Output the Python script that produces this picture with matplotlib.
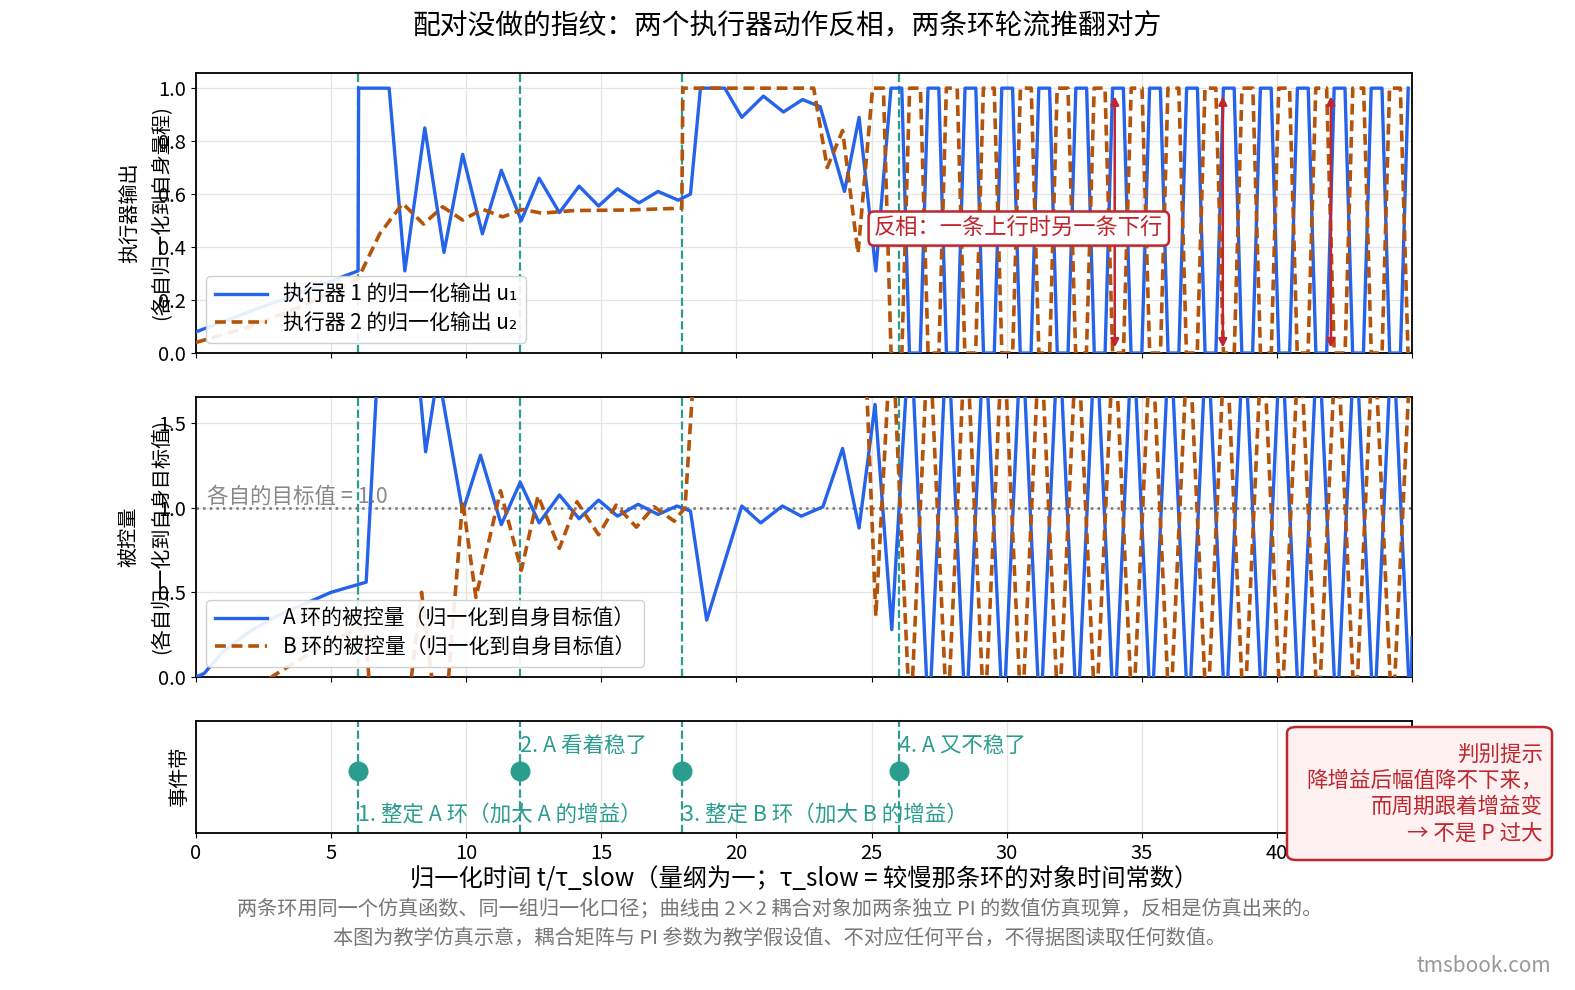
import matplotlib
matplotlib.use("Agg")
import matplotlib.pyplot as plt
import numpy as np
from matplotlib.patches import FancyBboxPatch

plt.rcParams['font.family'] = ['Noto Sans CJK SC', 'DejaVu Sans']
plt.rcParams['axes.unicode_minus'] = False

BLUE = '#2563eb'
ORANGE = '#b45309'
TEAL = '#2a9d8f'
RED = '#c0262d'

# ---- early (transient) segments ----
u1_t = [0, 6.0, 6.02, 7.15, 7.73, 8.47, 9.18, 9.87, 10.6, 11.3, 12.04, 12.7, 13.45, 14.18, 14.9, 15.6, 16.4, 17.1,
        17.85, 18.3, 18.67, 19.57, 20.2, 21.0, 21.74, 22.45, 23.1, 24.0, 24.54, 25.16]
u1_v = [0.08, 0.31, 1.0, 1.0, 0.31, 0.85, 0.38, 0.75, 0.45, 0.69, 0.50, 0.66, 0.53, 0.63, 0.555, 0.62, 0.567, 0.61,
        0.577, 0.60, 1.0, 1.0, 0.89, 0.97, 0.91, 0.957, 0.93, 0.61, 0.89, 0.31]
u2_t = [0, 2.0, 4.0, 6.0, 6.8, 7.65, 8.42, 9.13, 9.87, 10.6, 11.35, 12.1, 12.8, 14.0, 16.0, 17.98, 18.02, 22.86,
        23.36, 23.93, 24.5]
u2_v = [0.04, 0.10, 0.18, 0.28, 0.45, 0.565, 0.487, 0.552, 0.502, 0.543, 0.514, 0.542, 0.528, 0.538, 0.54, 0.547, 1.0, 1.0,
        0.70, 0.84, 0.377]
yA_t = [0, 0.3, 1.0, 2.0, 3.0, 4.0, 5.0, 6.3, 6.75, 8.17, 8.5, 8.96, 9.87, 10.53, 11.3, 12.0, 12.7, 13.45, 14.18,
        14.9, 15.6, 16.36, 17.1, 17.8, 18.3, 18.9, 20.2, 20.9, 21.7, 22.4, 23.2, 23.93, 24.54, 25.13]
yA_v = [0.0, 0.02, 0.15, 0.27, 0.36, 0.43, 0.50, 0.56, 1.9, 1.9, 1.33, 1.8, 0.976, 1.31, 0.90, 1.15, 0.91, 1.075, 0.935,
        1.045, 0.95, 1.02, 0.96, 1.01, 0.98, 0.336, 1.01, 0.91, 1.01, 0.95, 1.005, 1.35, 0.88, 1.61]
yB_t = [0, 2.8, 4.0, 5.5, 6.25, 6.45, 7.9, 8.35, 8.8, 9.3, 9.87, 10.36, 11.27, 12.04, 12.66, 13.45, 14.1, 14.9,
        15.55, 16.3, 16.95, 17.7, 18.1, 18.5, 24.75, 25.16]
yB_v = [-0.4, 0.0, 0.12, 0.25, 0.30, -0.1, -0.1, 0.5, -0.1, -0.1, 1.04, 0.47, 1.10, 0.63, 1.07, 0.76, 1.035, 0.84,
        1.015, 0.885, 1.006, 0.92, 1.0, 2.0, 2.0, 0.36]

# ---- late (limit-cycle) regime ----
u1_peaks = [25.92, 27.29, 28.66, 30.02, 31.39, 32.76, 34.12, 35.49, 36.86, 38.22, 39.59, 40.96, 42.32, 43.69, 45.06]
u2_peaks = [25.24, 26.61, 27.97, 29.34, 30.71, 32.07, 33.44, 34.81, 36.17, 37.54, 38.91, 40.27, 41.64, 43.01, 44.37]
yA_troughs = [25.75, 27.12, 28.49, 29.87, 31.24, 32.61, 33.98, 35.35, 36.73, 38.10, 39.47, 40.84, 42.21, 43.59, 44.96]
late_hi, late_lo = 2.1, -0.3
yA_end = 0.23
event_t = [6, 12, 18, 26]
event_lbl = ['1. 整定 A 环（加大 A 的增益）', '2. A 看着稳了', '3. 整定 B 环（加大 B 的增益）', '4. A 又不稳了']
arrow_t = [34, 38, 42]


def trapez(peaks, half_top=0.2, ramp=0.283):
    t, v = [], []
    for c in peaks:
        t += [c - half_top, c + half_top, c + half_top + ramp, c + 3 * half_top + ramp]
        v += [1, 1, 0, 0]
    return t, v


t1, v1 = trapez(u1_peaks)
U1t = np.array(u1_t + t1); U1v = np.array(u1_v + v1)
m = U1t <= 45; U1t, U1v = U1t[m], U1v[m]
t2, v2 = trapez(u2_peaks)
U2t = np.array(u2_t + t2); U2v = np.array(u2_v + v2)
m = U2t <= 45; U2t, U2v = U2t[m], U2v[m]

def vwave(mins, lo, hi):
    t, v = [], []
    for i, c in enumerate(mins):
        t.append(c); v.append(lo)
        if i < len(mins) - 1:
            t.append((c + mins[i + 1]) / 2); v.append(hi)
    return t, v

ta, va = vwave(yA_troughs[1:], late_lo, late_hi)
YAt = yA_t + [yA_troughs[0]] + [(yA_troughs[0] + yA_troughs[1]) / 2] + ta + [45]
YAv = yA_v + [0.28] + [late_hi] + va + [yA_end]
tb, vb = vwave([(a + b) / 2 for a, b in zip(yA_troughs[:-1], yA_troughs[1:])], late_lo, late_hi)
YBt = yB_t + [yA_troughs[0]] + tb + [45]
YBv = yB_v + [late_hi] + vb + [late_hi]

fig = plt.figure(figsize=(15.75, 9.9), dpi=100)
L, W = 0.1244, 0.7721
ax1 = fig.add_axes([L, 0.6434, W, 0.2828])
ax2 = fig.add_axes([L, 0.3162, W, 0.2828], sharex=ax1)
ax3 = fig.add_axes([L, 0.1586, W, 0.1131], sharex=ax1)

for ax in (ax1, ax2, ax3):
    ax.grid(True, color='#e5e5e5', lw=0.9)
    ax.set_axisbelow(True)
    for e in event_t:
        ax.axvline(e, color=TEAL, ls='--', lw=1.6, zorder=1)
    ax.tick_params(labelsize=14.5)
    for s in ax.spines.values():
        s.set_linewidth(1.3)

ax1.plot(U1t, U1v, color=BLUE, lw=2.4, label='执行器 1 的归一化输出 u₁', zorder=3)
ax1.plot(U2t, U2v, color=ORANGE, lw=2.6, ls=(0, (3, 1.6)), label='执行器 2 的归一化输出 u₂', zorder=3)
ax1.set_xlim(0, 45)
ax1.set_ylim(0, 1.057)
ax1.set_yticks([0, 0.2, 0.4, 0.6, 0.8, 1.0])
ax1.set_ylabel('执行器输出\n(各自归一化到自身量程)', fontsize=14.5, labelpad=-10, linespacing=1.7)
ax1.tick_params(labelbottom=False)
for a in arrow_t:
    ax1.annotate('', xy=(a, 0.98), xytext=(a, 0.01),
                 arrowprops=dict(arrowstyle='<|-|>', color=RED, lw=1.8, mutation_scale=12), zorder=5)
ax1.text(30.45, 0.47, '反相：一条上行时另一条下行', color=RED, fontsize=16, ha='center', va='center', zorder=6,
         bbox=dict(boxstyle='round,pad=0.25', fc='white', ec=RED, lw=1.8))
ax1.legend(loc='lower left', fontsize=15, framealpha=0.9, borderpad=0.4, handlelength=2.5, labelspacing=0.3)

ax2.plot(YAt, YAv, color=BLUE, lw=2.4, label='A 环的被控量（归一化到自身目标值）', zorder=3)
ax2.plot(YBt, YBv, color=ORANGE, lw=2.6, ls=(0, (3, 1.6)), label='B 环的被控量（归一化到自身目标值）', zorder=3)
ax2.axhline(1.0, color='#777777', ls=':', lw=1.8, zorder=2)
ax2.text(0.4, 1.0, '各自的目标值 = 1.0', color='#888888', fontsize=15.5, va='bottom')
ax2.set_ylim(0, 1.654)
ax2.set_yticks([0, 0.5, 1.0, 1.5])
ax2.set_ylabel('被控量\n(各自归一化到自身目标值)', fontsize=14.5, labelpad=-10, linespacing=1.7)
ax2.tick_params(labelbottom=False)
ax2.legend(loc='lower left', fontsize=15, framealpha=0.9, borderpad=0.4, handlelength=2.5, labelspacing=0.3)

ax3.set_ylim(0, 1)
ax3.set_yticks([])
ax3.scatter(event_t, [0.55] * 4, s=180, color=TEAL, zorder=4)
for i, (e, s) in enumerate(zip(event_t, event_lbl)):
    if i % 2 == 0:
        ax3.text(e, 0.16, s, color=TEAL, fontsize=15.5, ha='left', va='center')
    else:
        ax3.text(e, 0.78, s, color=TEAL, fontsize=15.5, ha='left', va='center')
ax3.set_ylabel('事件带', fontsize=14.5)
ax3.set_xticks(range(0, 46, 5))
ax3.set_xlabel('归一化时间 t/τ_slow（量纲为一；τ_slow = 较慢那条环的对象时间常数）', fontsize=17.5, labelpad=2)

# hint box
fig.patches.append(FancyBboxPatch((1287 / 1575, 1 - 860 / 990), 265 / 1575, 133 / 990,
                                  boxstyle='round,pad=0,rounding_size=0.006', transform=fig.transFigure,
                                  fc='#fdf1f1', ec=RED, lw=1.8, zorder=10))
fig.text(1543 / 1575, 1 - 794 / 990, '判别提示\n降增益后幅值降不下来，\n而周期跟着增益变\n→ 不是 P 过大',
         color=RED, fontsize=15.5, ha='right', va='center', linespacing=1.25, zorder=11)

fig.suptitle('配对没做的指纹：两个执行器动作反相，两条环轮流推翻对方', fontsize=20, y=0.988)
fig.text(0.495, 1 - 909 / 990, '两条环用同一个仿真函数、同一组归一化口径；曲线由 2×2 耦合对象加两条独立 PI 的数值仿真现算，反相是仿真出来的。',
         color='#777777', fontsize=14.5, ha='center', va='center')
fig.text(0.495, 1 - 938 / 990, '本图为教学仿真示意，耦合矩阵与 PI 参数为教学假设值、不对应任何平台，不得据图读取任何数值。',
         color='#777777', fontsize=14.5, ha='center', va='center')
fig.text(0.985, 1 - 966 / 990, 'tmsbook.com', color='#999999', fontsize=15, ha='right', va='center')

fig.savefig('out.png', dpi=100)
